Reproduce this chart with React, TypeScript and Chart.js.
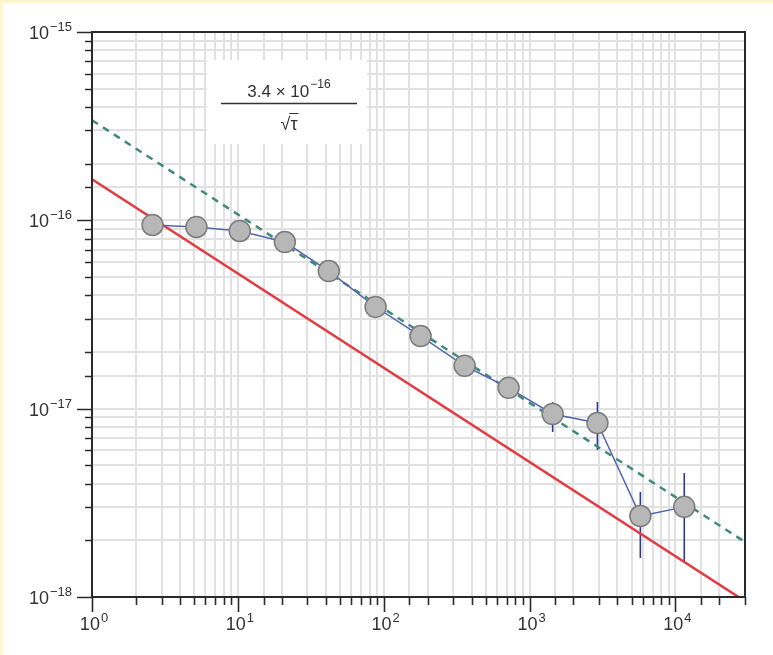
import { useEffect, useRef } from 'react';
import { Chart, registerables } from 'chart.js';

Chart.register(...registerables);

// Averaging time tau (s) and fractional instability
const tauValues = [2.6, 5.2, 10.3, 21, 42, 88, 179, 359, 718, 1440, 2920, 5750, 11500];
const sigmaValues = [9.45e-17, 9.22e-17, 8.78e-17, 7.67e-17, 5.38e-17, 3.47e-17, 2.43e-17, 1.69e-17, 1.29e-17, 9.37e-18, 8.39e-18, 2.69e-18, 3.01e-18];
const errHigh = [null, null, null, null, null, null, null, null, null, 1.085e-17, 1.085e-17, 3.61e-18, 4.55e-18];
const errLow = [null, null, null, null, null, null, null, null, null, 7.52e-18, 6.03e-18, 1.61e-18, 1.53e-18];

// 3.4e-16 / sqrt(tau) guide (dashed)
const fitTau = [1, 30000];
const fitSigma = [3.4e-16, 1.96e-18];
// red limit line
const limitTau = [1, 30000];
const limitSigma = [1.65e-16, 9.5e-19];

// tick labels: base "10" with superscript exponents
const tickBase = '10';
const xTickExponents = ['0', '1', '2', '3', '4'];
const yTickExponents = ['−18', '−17', '−16', '−15'];
const xMin = 1, xMax = 30000, yMin = 1e-18, yMax = 1e-15;

const annotationTop = '3.4 × 10';
const annotationExp = '−16';
const annotationBottom = '√τ';

const FONT = "'Liberation Sans', Arial, Helvetica, sans-serif";

function isMajor(v: number) {
  const e = Math.log10(v);
  return Math.abs(e - Math.round(e)) < 1e-6;
}

const errorBarPlugin = {
  id: 'errorBars',
  beforeDatasetsDraw(chart: any) {
    const { ctx } = chart;
    const xs = chart.scales.x, ys = chart.scales.y;
    ctx.save();
    ctx.strokeStyle = '#2d3a8c';
    ctx.lineWidth = 1.6;
    for (let i = 0; i < tauValues.length; i++) {
      const hi = errHigh[i], lo = errLow[i];
      if (hi == null || lo == null) continue;
      const x = xs.getPixelForValue(tauValues[i]);
      ctx.beginPath();
      ctx.moveTo(x, ys.getPixelForValue(hi));
      ctx.lineTo(x, ys.getPixelForValue(lo));
      ctx.stroke();
    }
    ctx.restore();
  },
};

const annotationPlugin = {
  id: 'annotationBox',
  beforeDatasetsDraw(chart: any) {
    const { ctx } = chart;
    ctx.save();
    ctx.fillStyle = '#ffffff';
    ctx.fillRect(207, 60, 160, 84);
    const cx = 289;
    ctx.fillStyle = '#333333';
    ctx.textBaseline = 'alphabetic';
    ctx.font = `17px ${FONT}`;
    const wMain = ctx.measureText(annotationTop).width;
    ctx.font = `12px ${FONT}`;
    const wExp = ctx.measureText(annotationExp).width;
    const start = cx - (wMain + wExp + 1) / 2;
    ctx.font = `17px ${FONT}`;
    ctx.textAlign = 'left';
    ctx.fillText(annotationTop, start, 97);
    ctx.font = `12px ${FONT}`;
    ctx.fillText(annotationExp, start + wMain + 1, 88);
    ctx.strokeStyle = '#333333';
    ctx.lineWidth = 1.3;
    ctx.beginPath();
    ctx.moveTo(221, 103.5);
    ctx.lineTo(357, 103.5);
    ctx.stroke();
    ctx.font = `18px ${FONT}`;
    const wb = ctx.measureText(annotationBottom).width;
    const bs = cx - wb / 2;
    ctx.fillText(annotationBottom, bs, 130);
    const wr = ctx.measureText('√').width;
    ctx.lineWidth = 1;
    ctx.beginPath();
    ctx.moveTo(bs + wr - 1, 113.5);
    ctx.lineTo(bs + wb + 1, 113.5);
    ctx.stroke();
    ctx.restore();
  },
};

function drawPowerLabel(ctx: any, exp: string, x: number, baseline: number, align: 'center' | 'right') {
  ctx.font = `18px ${FONT}`;
  const wb = ctx.measureText(tickBase).width;
  ctx.font = `13px ${FONT}`;
  const we = ctx.measureText(exp).width;
  const total = wb + we + 1;
  const start = align === 'center' ? x - total / 2 : x - total;
  ctx.textAlign = 'left';
  ctx.textBaseline = 'alphabetic';
  ctx.font = `18px ${FONT}`;
  ctx.fillText(tickBase, start, baseline);
  ctx.font = `13px ${FONT}`;
  ctx.fillText(exp, start + wb + 1, baseline - 8);
}

const framePlugin = {
  id: 'frameTicks',
  afterDraw(chart: any) {
    const { ctx, chartArea: a } = chart;
    const xs = chart.scales.x, ys = chart.scales.y;
    ctx.save();
    ctx.strokeStyle = '#2a2a2a';
    ctx.lineWidth = 1.6;
    ctx.beginPath();
    for (const t of xs.ticks) {
      const x = Math.round(xs.getPixelForValue(t.value)) + 0.5;
      const len = isMajor(t.value) ? 15 : 8;
      ctx.moveTo(x, a.bottom);
      ctx.lineTo(x, a.bottom + len);
    }
    for (const t of ys.ticks) {
      const y = Math.round(ys.getPixelForValue(t.value)) + 0.5;
      const len = isMajor(t.value) ? 15 : 7;
      ctx.moveTo(a.left, y);
      ctx.lineTo(a.left - len, y);
    }
    ctx.stroke();
    ctx.lineWidth = 2;
    ctx.strokeRect(a.left, a.top, a.right - a.left, a.bottom - a.top);

    ctx.fillStyle = '#333333';
    for (const t of xs.ticks) {
      if (!isMajor(t.value)) continue;
      const e = Math.round(Math.log10(t.value));
      const lab = xTickExponents[e];
      if (lab == null) continue;
      drawPowerLabel(ctx, lab, xs.getPixelForValue(t.value) + 2, a.bottom + 33, 'center');
    }
    for (const t of ys.ticks) {
      if (!isMajor(t.value)) continue;
      const e = Math.round(Math.log10(t.value));
      const lab = yTickExponents[e + 18];
      if (lab == null) continue;
      drawPowerLabel(ctx, lab, a.left - 20, ys.getPixelForValue(t.value) + 7, 'right');
    }
    ctx.restore();
  },
};

export default function App() {
  const ref = useRef<HTMLCanvasElement | null>(null);

  useEffect(() => {
    document.body.style.margin = '0';
    const canvas = ref.current;
    if (!canvas) return;
    const chart = new Chart(canvas, {
      type: 'line',
      data: {
        datasets: [
          {
            label: 'Measured instability',
            data: tauValues.map((t, i) => ({ x: t, y: sigmaValues[i] })),
            borderColor: '#5466b0',
            borderWidth: 1.5,
            backgroundColor: '#b7b7b7',
            pointBackgroundColor: '#b7b7b7',
            pointBorderColor: '#7c7c7c',
            pointBorderWidth: 1.5,
            pointRadius: 10.5,
            tension: 0,
          },
          {
            label: '3.4e-16/sqrt(tau)',
            data: fitTau.map((t, i) => ({ x: t, y: fitSigma[i] })),
            borderColor: '#3f8a78',
            borderWidth: 2.5,
            borderDash: [7, 6],
            pointRadius: 0,
          },
          {
            label: 'Limit',
            data: limitTau.map((t, i) => ({ x: t, y: limitSigma[i] })),
            borderColor: '#e23b42',
            borderWidth: 2.5,
            pointRadius: 0,
          },
        ],
      },
      options: {
        responsive: false,
        animation: false,
        layout: { padding: { top: 32, right: 28, left: 0, bottom: 0 } },
        plugins: { legend: { display: false }, tooltip: { enabled: false } },
        scales: {
          x: {
            type: 'logarithmic',
            min: xMin,
            max: xMax,
            afterFit(scale: any) { scale.height = 58; },
            grid: { color: '#e1e1e1', lineWidth: 2, drawTicks: false },
            border: { display: false },
            ticks: { display: false, autoSkip: false, maxRotation: 0 },
          },
          y: {
            type: 'logarithmic',
            min: yMin,
            max: yMax,
            afterFit(scale: any) { scale.width = 92; },
            grid: { color: '#e1e1e1', lineWidth: 2, drawTicks: false },
            border: { display: false },
            ticks: { display: false, autoSkip: false },
          },
        },
      },
      plugins: [errorBarPlugin, annotationPlugin, framePlugin],
    } as any);
    return () => chart.destroy();
  }, []);

  return (
    <div style={{ position: 'relative', width: 773, height: 655, background: '#ffffff' }}>
      <canvas ref={ref} width={773} height={655} style={{ display: 'block' }} />
      <div
        style={{
          position: 'absolute', left: 0, top: 0, width: 773, height: 655,
          boxSizing: 'border-box', borderLeft: '3px solid #fff6cc', borderTop: '3px solid #fff6cc',
          pointerEvents: 'none',
        }}
      />
    </div>
  );
}
